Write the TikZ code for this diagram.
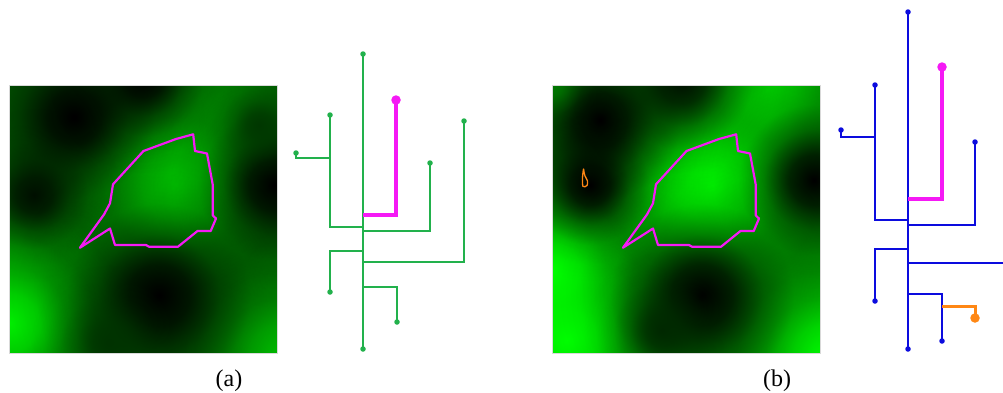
\documentclass[tikz,border=0pt]{standalone}
\usepackage{fontspec}
\setmainfont{Liberation Serif}
\usetikzlibrary{fadings}

\definecolor{branchgreen}{RGB}{34,177,76}
\definecolor{branchblue}{RGB}{12,12,222}
\definecolor{pathmag}{RGB}{245,25,245}
\definecolor{pathorange}{RGB}{255,135,20}

% soft gaussian-like blob used for the intensity maps
\pgfdeclareradialshading{glowshade}{\pgfpoint{0bp}{0bp}}{%
  color(0bp)=(white); color(4.5bp)=(white!78!black);
  color(9bp)=(white!37!black); color(13.5bp)=(white!11!black);
  color(18bp)=(white!2!black); color(22bp)=(black); color(50bp)=(black)}
\pgfdeclarefading{glow}{\pgfuseshading{glowshade}}

% object outline, in map coordinates
\newcommand{\objoutline}{(71,162.7) -- (101,143.5) -- (106,160) -- (137,160)
  -- (140,161.7) -- (169,161.7) -- (188.5,146) -- (201.7,146) -- (207,133.5)
  -- (203.8,130.5) -- (203.8,100) -- (198,68.5) -- (186,66) -- (184.2,49.3)
  -- (167,54) -- (134.5,66) -- (104,99.3) -- (101,118.3) -- (95,129.5) -- cycle}

\begin{document}
\begin{tikzpicture}[x=1pt, y=-1pt,
  mapframe/.style={draw=black!15, line width=0.6pt},
  outline/.style={draw=pathmag, line width=2.2pt, line join=round},
  treeA/.style={draw=branchgreen, line width=2.7pt},
  treeB/.style={draw=branchblue, line width=2.7pt},
  best/.style={draw=pathmag, line width=3.2pt},
  alt/.style={draw=pathorange, line width=3pt},
  tip/.style={circle, fill, inner sep=0pt, minimum size=5.5pt},
  bigtip/.style={circle, fill, inner sep=0pt, minimum size=9.5pt},
  caption/.style={font=\fontsize{24}{26}\selectfont, inner sep=0pt},
]
\useasboundingbox (0,0) rectangle (1003,392);

%% ---- Map (a) ----
\begin{scope}[shift={(9,85)}]
  \clip (0,0) rectangle (268,268);
  \fill[fill={rgb,255:red,0;green,92;blue,0}] (0,0) rectangle (268,268);
  \foreach \x/\y/\r/\g in {210/8/130/120, 268/190/90/100, 60/170/110/112,
                           0/165/90/125, 167/100/190/200, 0/238/160/238,
                           268/268/150/185}
    \fill[fill={rgb,255:red,0;green,\g;blue,0}, path fading=glow] (\x,\y) circle (\r pt);
  \foreach \x/\y/\r/\g in {65/32/150/0, 135/-8/110/0, 265/100/140/0,
                           25/110/100/15, 150/210/170/0, 100/258/90/50,
                           250/40/70/55}
    \fill[fill={rgb,255:red,0;green,\g;blue,0}, path fading=glow] (\x,\y) circle (\r pt);
  \draw[outline] \objoutline;
\end{scope}
\draw[mapframe] (9,85) rectangle (277,353);

%% ---- Map (b) ----
\begin{scope}[shift={(552,85)}]
  \clip (0,0) rectangle (268,268);
  \fill[fill={rgb,255:red,0;green,130;blue,0}] (0,0) rectangle (268,268);
  \foreach \x/\y/\r/\g in {215/5/140/205, 100/100/100/170, 160/100/200/255,
                           0/185/150/255, 15/255/160/255, 268/268/150/245}
    \fill[fill={rgb,255:red,0;green,\g;blue,0}, path fading=glow] (\x,\y) circle (\r pt);
  \foreach \x/\y/\r/\g in {48/35/150/0, 38/100/110/0, 130/-5/130/15,
                           262/95/140/0, 150/210/170/0, 110/245/90/40,
                           0/0/55/120}
    \fill[fill={rgb,255:red,0;green,\g;blue,0}, path fading=glow] (\x,\y) circle (\r pt);
  \draw[outline] \objoutline;
  \draw[draw=pathorange, line width=1.3pt, line join=round]
    plot[smooth cycle] coordinates {(31.5,84) (30.5,93) (31,101.5) (35,100.5) (35.5,96) (33,91) (32,87)};
\end{scope}
\draw[mapframe] (552,85) rectangle (820,353);

%% ---- Tree (a) ----
\coordinate (a-top) at (363,54);
\coordinate (a-bot) at (363,349);
\coordinate (a-m)   at (396,100);
\coordinate (a-l1)  at (330,115);
\coordinate (a-l1s) at (296,153);
\coordinate (a-r1)  at (430,163);
\coordinate (a-l2)  at (330,292);
\coordinate (a-r2)  at (464,121);
\coordinate (a-r3)  at (397,322);

\draw[treeA] (a-top) -- (a-bot);
\draw[treeA] (a-top |- 0,227) -| (a-l1);
\draw[treeA] (a-l1 |- 0,158) -| (a-l1s);
\draw[treeA] (a-top |- 0,231) -| (a-r1);
\draw[treeA] (a-top |- 0,251) -| (a-l2);
\draw[treeA] (a-top |- 0,262) -| (a-r2);
\draw[treeA] (a-top |- 0,287) -| (a-r3);
\draw[best]  (a-top |- 0,215) -| (a-m);

\foreach \t in {a-top,a-bot,a-l1,a-l1s,a-r1,a-l2,a-r2,a-r3}
  \node[tip, branchgreen] at (\t) {};
\node[bigtip, pathmag] (a-goal) at (a-m) {};

%% ---- Tree (b) ----
\coordinate (b-top) at (908,12);
\coordinate (b-bot) at (908,349);
\coordinate (b-m)   at (942,67);
\coordinate (b-l1)  at (875,85);
\coordinate (b-l1s) at (841,130);
\coordinate (b-r1)  at (975,142);
\coordinate (b-l2)  at (875,301);
\coordinate (b-r2)  at (1003,263);
\coordinate (b-r3)  at (942,341);
\coordinate (b-o)   at (975,318);

\draw[treeB] (b-top) -- (b-bot);
\draw[treeB] (b-top |- 0,220) -| (b-l1);
\draw[treeB] (b-l1 |- 0,137) -| (b-l1s);
\draw[treeB] (b-top |- 0,225) -| (b-r1);
\draw[treeB] (b-top |- 0,249) -| (b-l2);
\draw[treeB] (b-top |- b-r2) -- (b-r2);
\draw[treeB] (b-top |- 0,294) -| (b-r3);
\draw[best]  (b-top |- 0,199) -| (b-m);
\draw[alt]   (b-r3 |- 0,306) -| (b-o);

\foreach \t in {b-top,b-bot,b-l1,b-l1s,b-r1,b-l2,b-r3}
  \node[tip, branchblue] at (\t) {};
\node[bigtip, pathmag] (b-goal) at (b-m) {};
\node[bigtip, pathorange] (b-alt) at (b-o) {};

%% ---- Captions ----
\node[caption] (cap-a) at (229,381) {(a)};
\node[caption] (cap-b) at (777,381) {(b)};

\end{tikzpicture}
\end{document}
